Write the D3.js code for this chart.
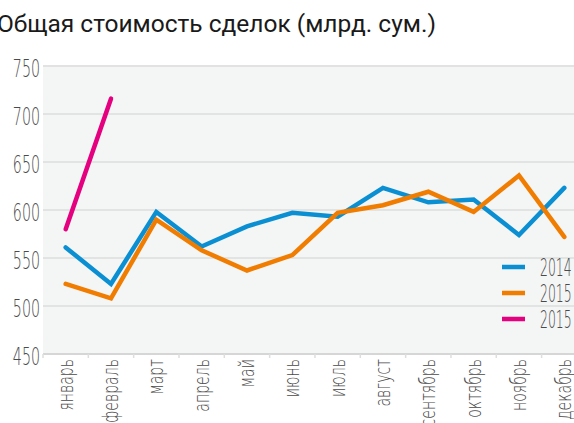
<!DOCTYPE html>
<html>
<head>
<meta charset="utf-8">
<script src="https://cdn.jsdelivr.net/npm/d3@7"></script>
<style>
  html, body { margin: 0; padding: 0; background: #fff; overflow: hidden; }
  svg { display: block; }
  .tick-label { font-family: "DejaVu Sans", sans-serif; font-weight: 200; fill: #4a4a4a; }
</style>
</head>
<body>
<div id="chart"></div>
<script>
var months = ['январь', 'февраль', 'март', 'апрель', 'май', 'июнь', 'июль', 'август', 'сентябрь', 'октябрь', 'ноябрь', 'декабрь'];
var yTicks = [450, 500, 550, 600, 650, 700, 750];
var values2014 = [561, 523, 598, 562, 583, 597, 593, 623, 608, 611, 574, 623];
var values2015 = [523, 508, 590, 558, 537, 553, 597, 605, 619, 598, 636, 572];
var values2015b = [580, 716];
var seriesNames = ['2014', '2015', '2015'];
var seriesColors = ['#0a8fd2', '#f07c00', '#e4007f'];

var w = 574,
    h = 423,
    padLeft = 43,
    padTop = 66,
    padBottom = 354,
    bandW = 45.33;

var svg = d3.select('#chart')
  .append('svg')
  .attr('width', w)
  .attr('height', h);

var x = d3.scaleBand()
  .domain(months)
  .range([padLeft, padLeft + bandW * months.length]);

var y = d3.scaleLinear()
  .domain([450, 750])
  .range([padBottom, padTop]);

// plot background
svg.append('rect')
  .attr('x', padLeft)
  .attr('y', padTop)
  .attr('width', w - padLeft)
  .attr('height', padBottom - padTop)
  .attr('fill', '#f4f5f5');

// gridlines
svg.selectAll('line.grid').data(yTicks.slice(1))
  .enter()
  .append('line')
  .attr('class', 'grid')
  .attr('x1', padLeft)
  .attr('x2', w)
  .attr('y1', function(d) { return y(d); })
  .attr('y2', function(d) { return y(d); })
  .attr('stroke', function(d) { return d === 750 ? '#e2e2e2' : '#dcdcdc'; })
  .attr('stroke-width', function(d) { return d === 750 ? 2 : 1.5; });

// bottom axis
var xAxis = d3.axisBottom(x).tickSize(0).tickFormat('');
var gx = svg.append('g')
  .attr('transform', 'translate(0,' + padBottom + ')')
  .call(xAxis);
gx.select('.domain').attr('stroke', '#d6d6d6').attr('stroke-width', 2).attr('d', 'M' + padLeft + ',0H' + w);

svg.selectAll('line.xtick').data(months.concat(['end']))
  .enter()
  .append('line')
  .attr('class', 'xtick')
  .attr('x1', function(d, i) { return padLeft + i * x.step(); })
  .attr('x2', function(d, i) { return padLeft + i * x.step(); })
  .attr('y1', padBottom)
  .attr('y2', padBottom + 4)
  .attr('stroke', '#dedede')
  .attr('stroke-width', 1.5);

// y tick labels
svg.selectAll('text.ylab').data(yTicks)
  .enter()
  .append('text')
  .attr('class', 'tick-label ylab')
  .attr('text-anchor', 'end')
  .attr('transform', function(d) { return 'translate(40,' + (y(d) + 11) + ') scale(0.57,1)'; })
  .style('font-size', '25px')
  .text(function(d) { return d; });

// month labels
svg.selectAll('text.xlab').data(months)
  .enter()
  .append('text')
  .attr('class', 'tick-label xlab')
  .attr('text-anchor', 'end')
  .attr('transform', function(d) {
    return 'translate(' + (x(d) + x.bandwidth() / 2 + 7) + ',' + (padBottom + 5) + ') rotate(-90) scale(0.67,1)';
  })
  .style('font-size', '21px')
  .text(function(d) { return d; });

// lines
var line = d3.line()
  .x(function(d) { return x(d.m) + x.bandwidth() / 2; })
  .y(function(d) { return y(d.v); });

var series = [values2014, values2015, values2015b].map(function(vals, k) {
  return {
    color: seriesColors[k],
    pts: vals.map(function(v, i) { return {m: months[i], v: v}; })
  };
});

svg.selectAll('path.series').data(series)
  .enter()
  .append('path')
  .attr('class', 'series')
  .attr('fill', 'none')
  .attr('stroke', function(d) { return d.color; })
  .attr('stroke-width', 4.5)
  .attr('stroke-linejoin', 'miter')
  .attr('stroke-linecap', 'round')
  .attr('d', function(d) { return line(d.pts); });

// legend
var lg = svg.selectAll('g.legend').data(seriesNames)
  .enter()
  .append('g')
  .attr('class', 'legend')
  .attr('transform', function(d, i) { return 'translate(502,' + (267 + i * 26) + ')'; });

lg.append('line')
  .attr('x1', 0)
  .attr('x2', 23)
  .attr('stroke', function(d, i) { return seriesColors[i]; })
  .attr('stroke-width', 4.5);

lg.append('text')
  .attr('class', 'tick-label')
  .attr('transform', 'translate(38,9) scale(0.52,1)')
  .style('font-size', '24px')
  .text(function(d) { return d; });

// title
svg.append('text')
  .attr('x', -3)
  .attr('y', 32)
  .style('font-family', 'Roboto, sans-serif')
  .style('font-size', '24.5px')
  .attr('fill', '#1a1a1a')
  .text('Общая стоимость сделок (млрд. сум.)');
</script>
</body>
</html>
